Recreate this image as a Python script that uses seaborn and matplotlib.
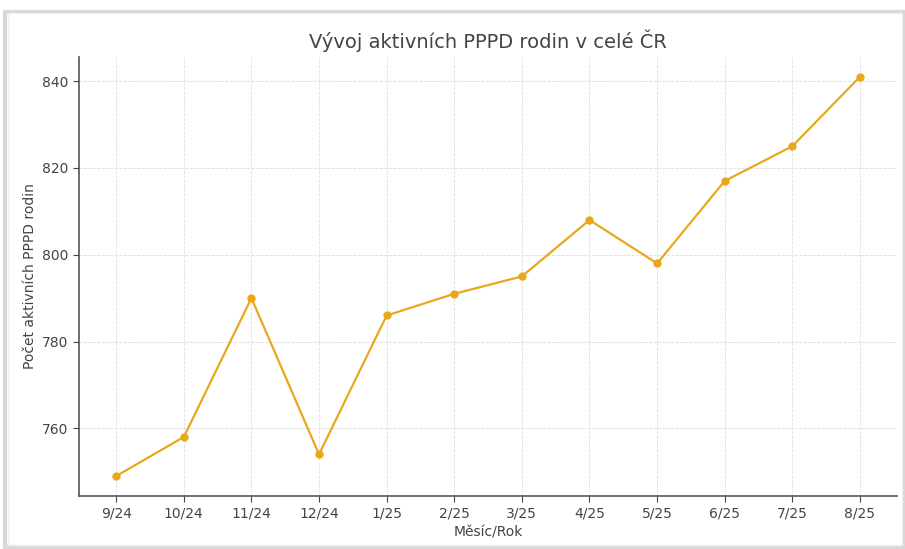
import pandas as pd
import matplotlib.pyplot as plt
import seaborn as sns
from matplotlib.patches import FancyBboxPatch

# data
months = ['9/24', '10/24', '11/24', '12/24', '1/25', '2/25', '3/25',
          '4/25', '5/25', '6/25', '7/25', '8/25']
families = [749, 758, 790, 754, 786, 791, 795, 808, 798, 817, 825, 841]

df = pd.DataFrame({'Měsíc/Rok': months, 'Počet': families})

sns.set_style('ticks')
plt.rcParams['font.family'] = ['DejaVu Sans']
plt.rcParams['text.color'] = '#444444'
plt.rcParams['axes.labelcolor'] = '#444444'
plt.rcParams['xtick.color'] = '#444444'
plt.rcParams['ytick.color'] = '#444444'

fig = plt.figure(figsize=(9.05, 5.49), dpi=100)
ax = fig.add_axes([0.0873, 0.0965, 0.904, 0.8])

# card frame with soft shadow, like the screenshot
fig.patches.append(FancyBboxPatch((0.006, 0.004), 0.992, 0.974, boxstyle='square,pad=0',
                                  transform=fig.transFigure, facecolor='none',
                                  edgecolor='#d8d8d8', linewidth=3, zorder=-1))
fig.patches.append(FancyBboxPatch((0.009, 0.008), 0.988, 0.968, boxstyle='square,pad=0',
                                  transform=fig.transFigure, facecolor='white',
                                  edgecolor='#eeeeee', linewidth=1, zorder=-1))

sns.lineplot(data=df, x='Měsíc/Rok', y='Počet', marker='o', color='#E9A81C',
             linewidth=1.6, markersize=6, markeredgewidth=0, sort=False, ax=ax)

ax.set_title('Vývoj aktivních PPPD rodin v celé ČR', fontsize=14, color='#444444')
ax.set_xlabel('Měsíc/Rok', fontsize=10)
ax.set_ylabel('Počet aktivních PPPD rodin', fontsize=10)
ax.set_yticks([760, 780, 800, 820, 840])
ax.grid(True, linestyle='--', linewidth=0.6, color='#dddddd')
ax.set_axisbelow(True)
sns.despine(ax=ax)
for s in ['left', 'bottom']:
    ax.spines[s].set_color('#555555')
    ax.spines[s].set_linewidth(1.2)
ax.tick_params(length=4, width=0.8, labelsize=10)

fig.savefig('out.png', dpi=100)
